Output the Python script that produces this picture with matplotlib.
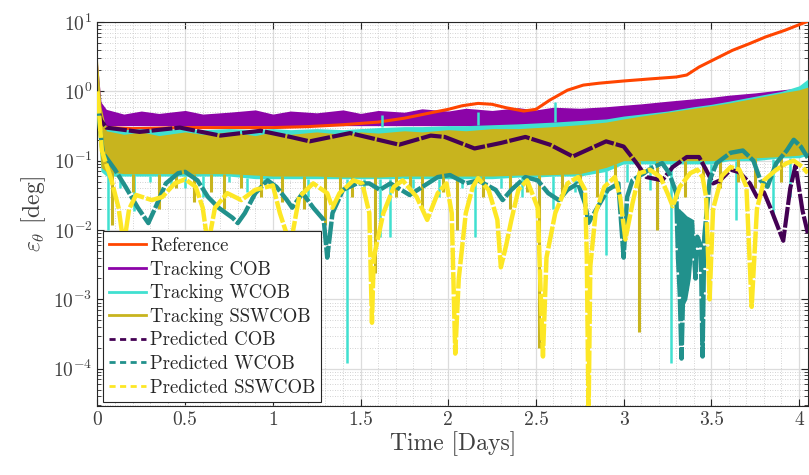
import numpy as np
import matplotlib
matplotlib.use("Agg")
from matplotlib import pyplot as plt
from matplotlib.lines import Line2D
from matplotlib.ticker import LogLocator, MultipleLocator, NullFormatter

plt.rcParams['font.family'] = 'serif'
plt.rcParams['font.serif'] = ['cmr10', 'DejaVu Serif']
plt.rcParams['mathtext.fontset'] = 'cm'
plt.rcParams['axes.formatter.use_mathtext'] = True

# Reference (smooth)
ref_t = [0, 0.02, 0.05, 0.2, 0.5, 0.8, 1.0, 1.2, 1.4, 1.6, 1.75, 1.9, 2.0, 2.08, 2.17, 2.25, 2.33,
         2.43, 2.5, 2.58, 2.68, 2.77, 2.86, 3.0, 3.15, 3.3, 3.36, 3.43, 3.53, 3.62, 3.72, 3.81, 3.92, 4.04, 4.05]
ref_v = [0.6, 0.35, 0.3, 0.29, 0.3, 0.3, 0.3, 0.31, 0.33, 0.36, 0.41, 0.49, 0.55, 0.62, 0.67, 0.65, 0.58,
         0.52, 0.55, 0.75, 1.04, 1.23, 1.31, 1.41, 1.51, 1.61, 1.72, 2.24, 3.0, 3.9, 4.9, 6.1, 7.6, 10.0, 10.2]

# Tracking bands (upper / lower envelope of the fast oscillation)
band_t = [0.0, 0.02, 0.05, 0.15, 0.25, 0.35, 0.5, 0.6, 0.75, 0.9, 1.0, 1.1, 1.25, 1.4, 1.5, 1.6, 1.75,
          1.85, 2.0, 2.1, 2.25, 2.4, 2.5, 2.6, 2.75, 2.9, 3.0, 3.1, 3.25, 3.4, 3.5, 3.6, 3.75, 3.9, 4.0, 4.05]
cob_hi = [2.5, 0.7, 0.55, 0.47, 0.52, 0.48, 0.53, 0.47, 0.5, 0.54, 0.47, 0.52, 0.49, 0.54, 0.48, 0.53, 0.5,
          0.56, 0.52, 0.57, 0.53, 0.58, 0.54, 0.59, 0.57, 0.6, 0.63, 0.66, 0.72, 0.78, 0.82, 0.88, 0.95,
          1.05, 1.12, 1.2]
cob_lo = [0.3, 0.32, 0.32, 0.32, 0.32, 0.32, 0.32, 0.32, 0.32, 0.32, 0.32, 0.32, 0.32, 0.32, 0.32, 0.32,
          0.32, 0.32, 0.32, 0.32, 0.32, 0.32, 0.32, 0.32, 0.33, 0.35, 0.36, 0.38, 0.42, 0.46, 0.48, 0.5,
          0.55, 0.6, 0.62, 0.4]
wcob_hi = [2.0, 0.5, 0.3, 0.28, 0.29, 0.28, 0.29, 0.28, 0.29, 0.28, 0.29, 0.28, 0.29, 0.28, 0.29, 0.3,
           0.31, 0.31, 0.32, 0.32, 0.33, 0.34, 0.35, 0.36, 0.38, 0.4, 0.44, 0.47, 0.52, 0.6, 0.65, 0.72,
           0.85, 1.0, 1.2, 1.5]
wcob_lo = [0.4, 0.07, 0.06, 0.06, 0.06, 0.06, 0.06, 0.06, 0.06, 0.055, 0.055, 0.055, 0.055, 0.055, 0.055,
           0.055, 0.055, 0.055, 0.055, 0.055, 0.055, 0.058, 0.058, 0.06, 0.06, 0.07, 0.09, 0.09, 0.09,
           0.09, 0.09, 0.1, 0.1, 0.11, 0.11, 0.12]
ssw_hi = [2.8, 0.6, 0.27, 0.24, 0.26, 0.23, 0.26, 0.24, 0.26, 0.23, 0.26, 0.24, 0.26, 0.24, 0.26, 0.25,
          0.27, 0.26, 0.28, 0.27, 0.29, 0.29, 0.3, 0.31, 0.33, 0.36, 0.4, 0.44, 0.5, 0.57, 0.62, 0.68,
          0.8, 0.95, 1.05, 1.15]
ssw_lo = [0.5, 0.08, 0.07, 0.065, 0.065, 0.065, 0.065, 0.065, 0.065, 0.062, 0.06, 0.06, 0.06, 0.058,
          0.058, 0.058, 0.06, 0.06, 0.06, 0.06, 0.06, 0.062, 0.062, 0.063, 0.065, 0.08, 0.1, 0.1, 0.1,
          0.1, 0.1, 0.105, 0.11, 0.115, 0.12, 0.13]

# downward spikes of tracking series
wcob_spk_t = [0.06, 0.13, 0.21, 0.3, 0.42, 0.5, 0.6, 0.75, 0.85, 0.95, 1.05, 1.2, 1.3, 1.42, 1.52,
              1.61, 1.67, 1.8, 1.95, 2.08, 2.15, 2.3, 2.42, 2.6, 2.72, 2.9, 3.02, 3.15, 3.27, 3.5,
              3.64, 3.75, 3.85, 3.95]
wcob_spk_v = [0.01, 0.04, 0.019, 0.05, 0.04, 0.04, 0.03, 0.05, 0.035, 0.05, 0.04, 0.03, 0.045, 1.2e-4,
              0.04, 0.008, 0.008, 0.04, 0.03, 0.04, 0.008, 0.04, 0.03, 0.02, 0.035, 4.4e-3, 0.05, 0.038,
              1.2e-4, 0.05, 0.014, 0.04, 0.015, 0.03]
wcob_up_t = [1.62, 2.17, 2.61]
wcob_up_v = [0.45, 0.5, 0.7]
ssw_spk_t = [0.08, 0.2, 0.35, 0.45, 0.55, 0.65, 0.72, 0.82, 0.93, 1.05, 1.18, 1.3, 1.38, 1.45, 1.58,
             1.7, 1.78, 1.85, 1.97, 2.05, 2.2, 2.35, 2.45, 2.52, 2.65, 2.75, 2.85, 2.95, 3.09, 3.19,
             3.35, 3.45, 3.55, 3.65, 3.75, 3.9]
ssw_spk_v = [0.012, 0.035, 0.02, 0.04, 0.025, 0.035, 0.02, 0.04, 0.03, 0.025, 0.02, 0.012, 0.035, 0.03,
             0.0024, 0.03, 0.04, 0.02, 0.035, 0.01, 0.03, 0.02, 0.035, 2e-4, 0.03, 0.04, 0.03, 0.04,
             3.4e-4, 0.01, 0.03, 0.05, 0.04, 0.05, 0.04, 0.05]

# Predicted COB
pc_t = [0.0, 0.02, 0.05, 0.24, 0.47, 0.70, 0.93, 1.10, 1.21, 1.44, 1.72, 1.9, 1.98, 2.15, 2.3, 2.44,
        2.58, 2.71, 2.9, 3.0, 3.07, 3.13, 3.22, 3.28, 3.36, 3.43, 3.47, 3.51, 3.55, 3.61, 3.66, 3.72,
        3.76, 3.8, 3.84, 3.91, 3.95, 3.98, 4.02, 4.05]
pc_v = [0.6, 0.38, 0.3, 0.26, 0.3, 0.23, 0.27, 0.22, 0.19, 0.25, 0.17, 0.23, 0.22, 0.15, 0.18, 0.22,
        0.17, 0.115, 0.19, 0.16, 0.095, 0.058, 0.052, 0.081, 0.113, 0.113, 0.074, 0.047, 0.052, 0.074,
        0.068, 0.047, 0.03, 0.035, 0.02, 0.007, 0.04, 0.085, 0.019, 0.009]

# Predicted WCOB
pw_t = [0.0, 0.03, 0.10, 0.16, 0.23, 0.29, 0.33, 0.39, 0.46, 0.50, 0.57, 0.63, 0.69, 0.77, 0.80, 0.84,
        0.90, 0.97, 1.02, 1.08, 1.11, 1.17, 1.23, 1.29, 1.31, 1.34, 1.40, 1.48, 1.55, 1.61, 1.67, 1.78,
        1.94, 2.01, 2.10, 2.17, 2.27, 2.31, 2.36, 2.44, 2.51, 2.57, 2.63, 2.68, 2.74, 2.78, 2.80, 2.85,
        2.91, 2.97, 3.0, 3.02, 3.05, 3.17, 3.22, 3.26, 3.30, 3.31, 3.32, 3.33, 3.34, 3.35, 3.36, 3.37,
        3.39, 3.41, 3.42, 3.44, 3.45, 3.46, 3.49, 3.53, 3.61, 3.68, 3.74, 3.78, 3.82, 3.87, 3.93, 3.97,
        4.01, 4.05]
pw_v = [0.6, 0.13, 0.074, 0.042, 0.021, 0.0126, 0.021, 0.047, 0.066, 0.069, 0.052, 0.030, 0.021, 0.015,
        0.0126, 0.0175, 0.034, 0.052, 0.042, 0.027, 0.021, 0.034, 0.021, 0.014, 0.004, 0.0175, 0.038,
        0.047, 0.047, 0.038, 0.047, 0.032, 0.058, 0.062, 0.047, 0.052, 0.038, 0.027, 0.038, 0.058, 0.052,
        0.034, 0.027, 0.038, 0.047, 0.024, 0.0127, 0.021, 0.038, 0.047, 0.004, 0.03, 0.052, 0.081, 0.092,
        0.066, 0.034, 0.004, 0.0012, 1.4e-4, 0.0015, 0.004, 0.0014, 0.006, 0.012, 0.002, 0.008, 0.006,
        1.5e-4, 0.008, 0.052, 0.092, 0.13, 0.14, 0.10, 0.052, 0.042, 0.092, 0.14, 0.2, 0.16, 0.11]
blob_t = [3.30, 3.32, 3.34, 3.36, 3.38, 3.40]
blob_lo = [0.01, 0.0012, 0.0008, 0.001, 0.002, 0.008]
blob_hi = [0.022, 0.02, 0.018, 0.016, 0.015, 0.014]

# Predicted SSWCOB
py_t = [0.0, 0.025, 0.08, 0.12, 0.15, 0.18, 0.22, 0.31, 0.37, 0.44, 0.50, 0.56, 0.60, 0.63, 0.67, 0.74,
        0.82, 0.90, 1.0, 1.04, 1.10, 1.15, 1.23, 1.31, 1.34, 1.38, 1.46, 1.51, 1.55, 1.565, 1.575, 1.63,
        1.69, 1.74, 1.82, 1.88, 1.94, 1.99, 2.02, 2.04, 2.06, 2.10, 2.14, 2.17, 2.23, 2.28, 2.30, 2.33,
        2.36, 2.40, 2.45, 2.51, 2.54, 2.56, 2.61, 2.68, 2.74, 2.78, 2.79, 2.80, 2.81, 2.84, 2.89, 2.95,
        2.98, 3.01, 3.05, 3.09, 3.15, 3.21, 3.25, 3.28, 3.32, 3.38, 3.42, 3.45, 3.47, 3.49, 3.51, 3.56,
        3.61, 3.66, 3.70, 3.73, 3.76, 3.80, 3.87, 3.93, 3.97, 4.02, 4.05]
py_v = [1.0, 0.14, 0.052, 0.021, 0.006, 0.02, 0.032, 0.027, 0.03, 0.047, 0.054, 0.042, 0.021, 0.006,
        0.021, 0.034, 0.027, 0.038, 0.044, 0.0175, 0.006, 0.03, 0.047, 0.034, 0.021, 0.034, 0.052, 0.047,
        0.0175, 4.6e-4, 0.004, 0.0175, 0.042, 0.052, 0.030, 0.014, 0.034, 0.047, 0.0175, 1.65e-4, 0.002,
        0.0175, 0.042, 0.056, 0.038, 0.014, 0.0029, 0.006, 0.014, 0.038, 0.052, 0.021, 1.5e-4, 0.004,
        0.0175, 0.047, 0.058, 0.038, 0.004, 2e-5, 0.003, 0.0175, 0.042, 0.058, 0.03, 0.0073, 0.024, 0.066,
        0.074, 0.058, 0.034, 0.022, 0.042, 0.066, 0.074, 0.058, 0.03, 0.001, 0.02, 0.06, 0.081, 0.074,
        0.042, 7.8e-4, 0.02, 0.052, 0.074, 0.092, 0.10, 0.081, 0.066]

c_ref = '#ff4500'
c_cob = '#8c04a8'
c_wcob = '#40e0d0'
c_ssw = '#c8b41e'
c_pcob = '#440154'
c_pwcob = '#21918c'
c_pssw = '#fde725'

fig = plt.figure(figsize=(8.09, 4.75), dpi=100)
ax = fig.add_axes([0.1205, 0.1453, 0.878, 0.8084])

ax.fill_between(band_t, cob_lo, cob_hi, color=c_cob, lw=0, zorder=3)
ax.plot(ref_t, ref_v, color=c_ref, lw=2.2, zorder=3.5)
ax.fill_between(band_t, wcob_lo, wcob_hi, color=c_wcob, lw=0, zorder=4)
ax.vlines(wcob_spk_t, wcob_spk_v, np.interp(wcob_spk_t, band_t, wcob_lo), color=c_wcob, lw=1.8, zorder=4)
ax.vlines(wcob_up_t, np.interp(wcob_up_t, band_t, wcob_hi), wcob_up_v, color=c_wcob, lw=1.8, zorder=4)
ax.fill_between(band_t, ssw_lo, ssw_hi, color=c_ssw, lw=0, zorder=5)
ax.vlines(ssw_spk_t, ssw_spk_v, np.interp(ssw_spk_t, band_t, ssw_lo), color=c_ssw, lw=2.2, zorder=5)

dash = (5.0, 0.5)
ax.plot(pc_t, pc_v, color=c_pcob, lw=3.0, dashes=dash, zorder=6)
ax.fill_between(blob_t, blob_lo, blob_hi, color=c_pwcob, lw=0, zorder=7)
ax.plot(pw_t, pw_v, color=c_pwcob, lw=3.2, dashes=dash, zorder=7)
ax.plot(py_t, py_v, color=c_pssw, lw=3.2, dashes=dash, zorder=8)

ax.set_yscale('log')
ax.set_xlim(0, 4.05)
ax.set_ylim(2.9e-5, 10)
ax.set_xticks([0, 0.5, 1, 1.5, 2, 2.5, 3, 3.5, 4],
              ['0', '0.5', '1', '1.5', '2', '2.5', '3', '3.5', '4'])
ax.xaxis.set_minor_locator(MultipleLocator(0.1))
ax.yaxis.set_major_locator(LogLocator(base=10, numticks=20))
ax.yaxis.set_minor_locator(LogLocator(base=10, subs=np.arange(2, 10), numticks=20))
ax.yaxis.set_minor_formatter(NullFormatter())

ax.set_axisbelow(True)
ax.grid(which='major', color='#dcdcdc', lw=0.9, ls='-')
ax.grid(which='minor', color='#c4c4c4', lw=0.6, ls=(0, (1, 2)))

ax.tick_params(which='both', direction='in', top=True, right=True, colors='#262626',
               labelcolor='#404040', labelsize=14)
ax.tick_params(which='major', length=5, width=0.8)
ax.tick_params(which='minor', length=3, width=0.6)
ax.tick_params(axis='x', which='minor', length=0)
for s in ax.spines.values():
    s.set_color('#262626')
    s.set_linewidth(0.8)

ax.set_xlabel('Time [Days]', fontsize=17, color='#404040', labelpad=2)
ax.set_ylabel(r'$\varepsilon_\theta$ [deg]', fontsize=17, color='#404040', labelpad=4)

ldash = (2.2, 1.6)
handles = [Line2D([], [], color=c_ref, lw=2),
           Line2D([], [], color=c_cob, lw=2),
           Line2D([], [], color=c_wcob, lw=2),
           Line2D([], [], color=c_ssw, lw=2),
           Line2D([], [], color=c_pcob, lw=2, dashes=ldash),
           Line2D([], [], color=c_pwcob, lw=2, dashes=ldash),
           Line2D([], [], color=c_pssw, lw=2, dashes=ldash)]
labels = ['Reference', 'Tracking COB', 'Tracking WCOB', 'Tracking SSWCOB',
          'Predicted COB', 'Predicted WCOB', 'Predicted SSWCOB']
leg = ax.legend(handles, labels, loc='lower left', bbox_to_anchor=(0.008, 0.010), borderaxespad=0,
                fontsize=13.5, fancybox=False, framealpha=1, edgecolor='#262626',
                handlelength=2.0, handletextpad=0.2, labelspacing=0.3, borderpad=0.3)
leg.get_frame().set_linewidth(0.8)
for txt in leg.get_texts():
    txt.set_color('#262626')
leg.set_zorder(20)

fig.savefig('out.png', dpi=100)
